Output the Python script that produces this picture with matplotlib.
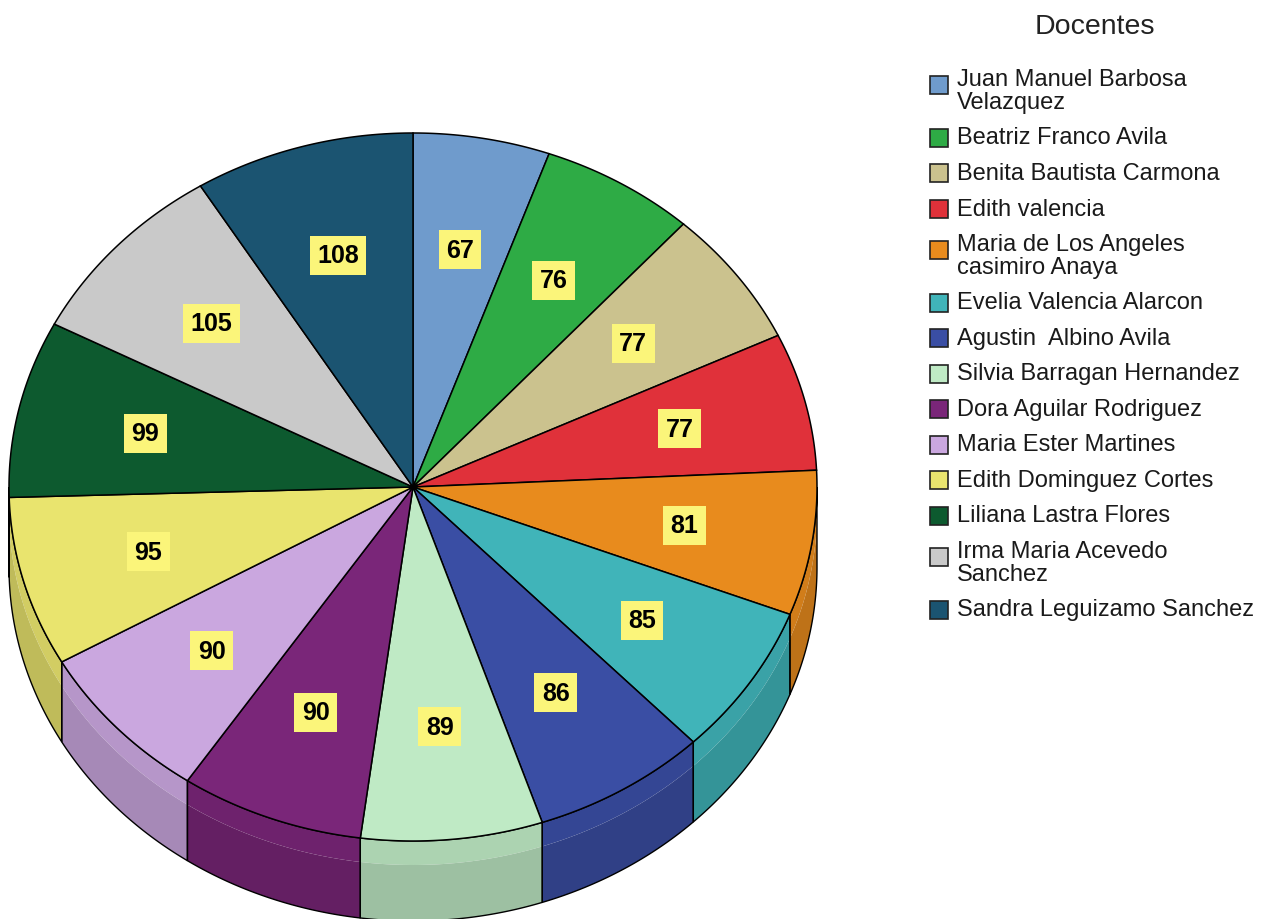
import numpy as np
import matplotlib
matplotlib.use("Agg")
import matplotlib.pyplot as plt
from matplotlib.patches import Polygon, Rectangle
from matplotlib.colors import to_rgb

docentes = [
    "Juan Manuel Barbosa\nVelazquez",
    "Beatriz Franco Avila",
    "Benita Bautista Carmona",
    "Edith valencia",
    "Maria de Los Angeles\ncasimiro Anaya",
    "Evelia Valencia Alarcon",
    "Agustin  Albino Avila",
    "Silvia Barragan Hernandez",
    "Dora Aguilar Rodriguez",
    "Maria Ester Martines",
    "Edith Dominguez Cortes",
    "Liliana Lastra Flores",
    "Irma Maria Acevedo\nSanchez",
    "Sandra Leguizamo Sanchez",
]
valores = [67, 76, 77, 77, 81, 85, 86, 89, 90, 90, 95, 99, 105, 108]
colores = ["#6f9bcc", "#2eab45", "#cbc28e", "#e0313a", "#e88b1d", "#40b4b9",
           "#3a4ea4", "#bfeac5", "#7a2679", "#caa7df", "#e9e46e", "#0d5a2f",
           "#c9c9c9", "#1b5471"]

# pie geometry in pixels
CX, CY = 413, 488
RX, RY = 404, 354
DEPTH = 80
LABEL_R = 0.68


def shade(c, f):
    r, g, b = to_rgb(c)
    return (r * f, g * f, b * f)


def edge_pts(t, r=1.0, dy=0.0):
    return np.column_stack([CX + RX * r * np.sin(t), CY - RY * r * np.cos(t) + dy])


fig = plt.figure(figsize=(12.77, 9.2), dpi=100)
ax = fig.add_axes([0, 0, 1, 1])
ax.set_xlim(0, 1277)
ax.set_ylim(920, 0)
ax.axis("off")

vals = np.array(valores, dtype=float)
bounds = np.concatenate([[0], np.cumsum(vals)]) / vals.sum() * 2 * np.pi

# side walls (front half only)
for i, c in enumerate(colores):
    a0, a1 = max(bounds[i], np.pi / 2), min(bounds[i + 1], 3 * np.pi / 2)
    if a1 <= a0:
        continue
    t = np.linspace(a0, a1, 80)
    top = edge_pts(t)
    mid = edge_pts(t, dy=DEPTH * 0.3)
    bot = edge_pts(t, dy=DEPTH)
    ax.add_patch(Polygon(np.vstack([top, mid[::-1]]), closed=True,
                         fc=shade(c, 0.9), ec="none", zorder=1))
    ax.add_patch(Polygon(np.vstack([mid, bot[::-1]]), closed=True,
                         fc=shade(c, 0.82), ec="none", zorder=1))
    ax.add_patch(Polygon(np.vstack([top, bot[::-1]]), closed=True,
                         fc="none", ec="black", lw=1.0, zorder=2))

# top faces
for i, c in enumerate(colores):
    t = np.linspace(bounds[i], bounds[i + 1], 120)
    pts = np.vstack([[CX, CY], edge_pts(t)])
    ax.add_patch(Polygon(pts, closed=True, fc=c, ec="black", lw=1.1, zorder=3))

# value labels
for i, v in enumerate(valores):
    tm = (bounds[i] + bounds[i + 1]) / 2
    x, y = edge_pts(np.array([tm]), r=LABEL_R)[0]
    ax.text(x, y, str(v), ha="center", va="center", fontsize=18, fontweight="bold",
            family=["Liberation Sans Narrow", "Liberation Sans", "DejaVu Sans"],
            color="black", zorder=5,
            bbox=dict(boxstyle="square,pad=0.3", fc="#fbf57a", ec="none"))

# legend
ax.text(1095, 27, "Docentes", ha="center", va="center", fontsize=20.5,
        family="Liberation Sans", color="#222222")
y = 80.0
for name, c in zip(docentes, colores):
    lines = name.split("\n")
    n = len(lines)
    yc = y + 23 * (n - 1) / 2 - (6 if n > 1 else 0)
    ax.add_patch(Rectangle((930, yc - 9), 18, 18, fc=c, ec="#222222", lw=1.2, zorder=4))
    for k, ln in enumerate(lines):
        ax.text(957, y + 23 * k, ln, ha="left", va="center", fontsize=17,
                family="Liberation Sans", color="#1a1a1a")
    y += 35.5 + 23 * (n - 1)

fig.savefig("out.png", dpi=100)
